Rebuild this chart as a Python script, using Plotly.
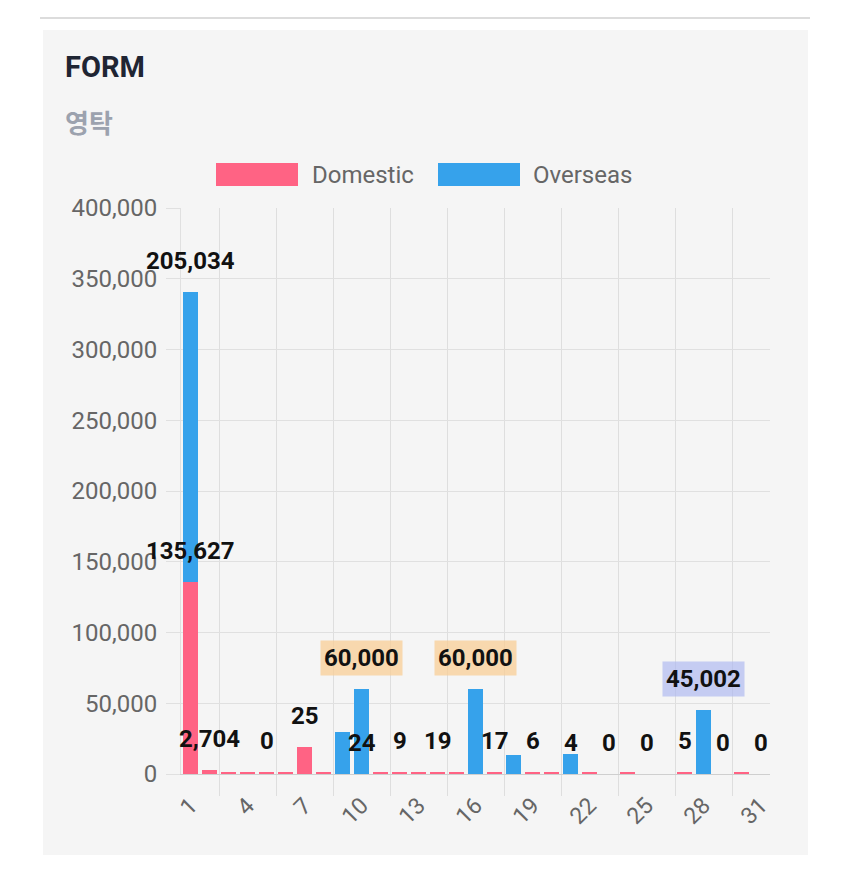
import plotly.graph_objects as go

# ---------------- data ----------------
days = list(range(1, 32))
domestic = [135627, 2704, 1200, 1200, 1200, 1200, 19000, 1200, 0, 0,
            1200, 1200, 1200, 1200, 1200, 0, 1200, 0, 1200, 1200,
            0, 1200, 0, 1200, 0, 0, 1200, 0, 0, 1200, 0]
overseas = [205034, 0, 0, 0, 0, 0, 0, 0, 30000, 60000,
            0, 0, 0, 0, 0, 60000, 0, 13500, 0, 0,
            14000, 0, 0, 0, 0, 0, 0, 45002, 0, 0, 0]

tick_vals = [1, 4, 7, 10, 13, 16, 19, 22, 25, 28, 31]
tick_text = ["1", "4", "7", "10", "13", "16", "19", "22", "25", "28", "31"]

dom_label_days = [1, 2, 5, 7, 10, 12, 14, 17, 19, 21, 23, 25, 27, 29, 31]
dom_label_text = ["135,627", "2,704", "0", "25", "24", "9", "19", "17", "6", "4",
                  "0", "0", "5", "0", "0"]
ovs_label_days = [1, 10, 16, 28]
ovs_label_text = ["205,034", "60,000", "60,000", "45,002"]
ovs_highlight = [None, "rgba(248,205,150,0.75)", "rgba(248,205,150,0.75)",
                 "rgba(170,182,240,0.65)"]

title = "FORM"
subtitle = "영탁"
series_names = ["Domestic", "Overseas"]
colors = ["#ff6384", "#36a2eb"]

# ---------------- layout geometry ----------------
# page has an 8px body margin; page pixel p -> figure pixel p-8
OFF = 8
W, H = 850, 869
PL, PR, PT, PB = 181, 770, 208, 774   # plot area in page pixels
L, T = PL - OFF, PT - OFF
PW, PH = PR - PL, PB - PT
R = W - L - PW
B = H - T - PH


def px(x):
    return (x - PL) / PW


def py(y):
    return (PB - y) / PH


FONT = "Roboto, 'Noto Sans', sans-serif"

fig = go.Figure()
fig.add_trace(go.Bar(x=days, y=domestic, name=series_names[0],
                     marker=dict(color=colors[0], line=dict(width=0)),
                     showlegend=False))
fig.add_trace(go.Bar(x=days, y=overseas, name=series_names[1],
                     marker=dict(color=colors[1], line=dict(width=0)),
                     showlegend=False))

shapes = []
# card background
shapes.append(dict(type="rect", xref="paper", yref="paper", layer="below",
                   x0=px(43), x1=px(808), y0=py(30), y1=py(855),
                   fillcolor="#f5f5f5", line=dict(width=0)))
# top separator
shapes.append(dict(type="line", xref="paper", yref="paper", layer="below",
                   x0=px(40), x1=px(810), y0=py(18), y1=py(18),
                   line=dict(color="#dcdcdc", width=2)))
# custom legend boxes
for i, x0 in enumerate([216, 438]):
    shapes.append(dict(type="rect", xref="paper", yref="paper",
                       x0=px(x0), x1=px(x0 + 82), y0=py(163), y1=py(186),
                       fillcolor=colors[i], line=dict(width=0)))

annotations = []
annotations.append(dict(xref="paper", yref="paper", x=px(63), y=py(67),
                        xanchor="left", yanchor="middle", showarrow=False,
                        text="<b>" + title + "</b>",
                        font=dict(family=FONT, size=29, color="#1f2533")))
annotations.append(dict(xref="paper", yref="paper", x=px(63), y=py(121),
                        xanchor="left", yanchor="middle", showarrow=False,
                        text="<b>" + subtitle + "</b>",
                        font=dict(family="'Noto Sans CJK KR', sans-serif", size=26,
                                  color="#9ca2ae")))
for i, x0 in enumerate([310, 531]):
    annotations.append(dict(xref="paper", yref="paper", x=px(x0), y=py(175),
                            xanchor="left", yanchor="middle", showarrow=False,
                            text=series_names[i],
                            font=dict(family=FONT, size=24, color="#666666")))

# data labels
LABEL_FONT = dict(family=FONT, size=24, color="#111111")
for d, t in zip(dom_label_days, dom_label_text):
    annotations.append(dict(x=d, y=domestic[d - 1], xref="x", yref="y",
                            text="<b>" + t + "</b>", showarrow=False,
                            yanchor="middle", yshift=31, font=LABEL_FONT))
for d, t, hl in zip(ovs_label_days, ovs_label_text, ovs_highlight):
    ann = dict(x=d, y=domestic[d - 1] + overseas[d - 1], xref="x", yref="y",
               text="<b>" + t + "</b>", showarrow=False,
               yanchor="middle", yshift=31, font=LABEL_FONT)
    if hl:
        ann.update(bgcolor=hl, borderpad=3)
    annotations.append(ann)

fig.update_layout(
    width=W, height=H,
    margin=dict(l=L, r=R, t=T, b=B, pad=0),
    paper_bgcolor="white", plot_bgcolor="rgba(0,0,0,0)",
    barmode="stack", bargap=0.26,
    shapes=shapes, annotations=annotations,
    showlegend=False,
    font=dict(family=FONT),
)
fig.update_xaxes(
    range=[0.5, 31.5], tickmode="array", tickvals=tick_vals, ticktext=tick_text,
    tickangle=-45, showgrid=False, ticks="",
    tickfont=dict(family=FONT, size=23, color="#666666"),
    ticklabelstandoff=8,
    showline=True, linecolor="#cfcfcf", linewidth=1,
    minor=dict(tickmode="linear", tick0=2.5, dtick=3, showgrid=True,
               gridcolor="#dedede", gridwidth=1,
               ticks="outside", ticklen=21, tickcolor="#dedede"),
    zeroline=False,
)
fig.update_yaxes(
    range=[0, 400000], dtick=50000, tickformat=",",
    gridcolor="#e0e0e0", gridwidth=1,
    ticks="outside", ticklen=14, tickcolor="#e0e0e0",
    tickfont=dict(family=FONT, size=24, color="#666666"),
    ticklabelstandoff=4,
    showline=True, linecolor="#e0e0e0", zeroline=False,
)

fig.write_html("out.html")
